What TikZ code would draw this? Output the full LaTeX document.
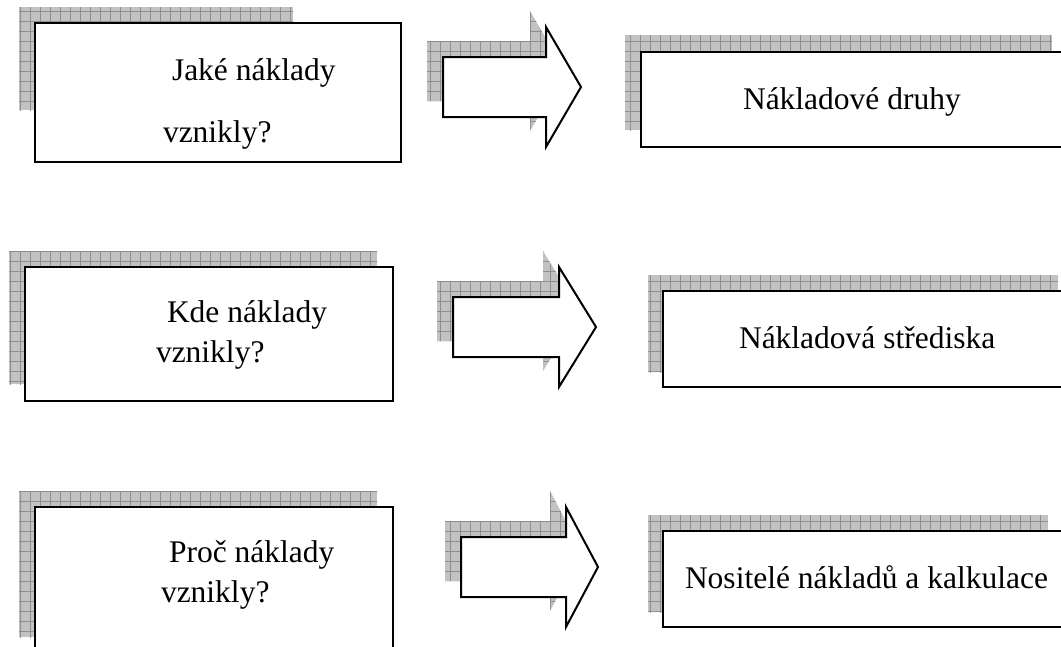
\documentclass[tikz,border=0pt]{standalone}
\usepackage{fontspec}
\setmainfont{Liberation Serif}
\definecolor{shadowgray}{HTML}{C2C2C2}
\definecolor{gridgray}{HTML}{8E8E8E}
\tikzset{
  box/.style={draw=black, line width=2pt, fill=white, inner sep=0pt, outer sep=0pt, anchor=north west},
  lbl/.style={font=\fontsize{31.5}{36}\selectfont, anchor=base west, inner sep=0pt, outer sep=0pt},
  blockarrow/.style={draw=black, line width=2pt, fill=white, line join=miter},
}
\newcommand\gshadow[1]{%
  \fill[shadowgray] #1;
  \begin{scope}
    \clip #1;
    \foreach \gx in {0,10,...,1070} {\draw[gridgray, line width=0.7pt] (\gx,0) -- (\gx,660);}
    \foreach \gy in {1,11,...,661} {\draw[gridgray, line width=0.7pt] (0,\gy) -- (1070,\gy);}
  \end{scope}}
\newcommand\arrowpath[8]{(#1,#2) -- (#4,#2) -- (#4,#5) -- (#7,#8) -- (#4,#6) -- (#4,#3) -- (#1,#3) -- cycle}
\begin{document}
\begin{tikzpicture}[x=1pt,y=-1pt]
\path[use as bounding box, clip] (0,0) rectangle (1061,646);
\fill[white] (0,0) rectangle (1061,646);
% ---------- row 1 ----------
\gshadow{(19,7) rectangle (293,110)}
\node[box, minimum width=366pt, minimum height=139pt] (q1) at (35,23) {};
\node[lbl] (q1a) at (172,80) {Jaké náklady};
\node[lbl] (q1b) at (163,142) {vznikly?};
\gshadow{\arrowpath{427}{41}{101}{530}{11}{131}{565}{71}}
\draw[blockarrow] \arrowpath{443}{57}{117}{546}{27}{147}{581}{87};
\gshadow{(625,35) rectangle (1052,130)}
\node[box, minimum width=440pt, minimum height=95pt] (a1) at (641,52) {};
\node[lbl] (a1t) at (743,109) {Nákladové druhy};
% ---------- row 2 ----------
\gshadow{(9,251) rectangle (377,384)}
\node[box, minimum width=368pt, minimum height=134pt] (q2) at (25,267) {};
\node[lbl] (q2a) at (167,322) {Kde náklady};
\node[lbl] (q2b) at (156,362) {vznikly?};
\gshadow{\arrowpath{437}{281}{341}{543}{251}{371}{580}{311}}
\draw[blockarrow] \arrowpath{453}{297}{357}{559}{267}{387}{596}{327};
\gshadow{(648,275) rectangle (1058,372)}
\node[box, minimum width=420pt, minimum height=96pt] (a2) at (663,291) {};
\node[lbl] (a2t) at (739,348) {Nákladová střediska};
% ---------- row 3 ----------
\gshadow{(19,491) rectangle (377,637)}
\node[box, minimum width=358pt, minimum height=180pt] (q3) at (35,507) {};
\node[lbl] (q3a) at (169,562) {Proč náklady};
\node[lbl] (q3b) at (161,602) {vznikly?};
\gshadow{\arrowpath{445}{521}{581}{550}{491}{611}{582}{551}}
\draw[blockarrow] \arrowpath{461}{537}{597}{566}{507}{627}{598}{567};
\gshadow{(648,515) rectangle (1048,612)}
\node[box, minimum width=420pt, minimum height=96pt] (a3) at (663,531) {};
\node[lbl] (a3t) at (685,588) {Nositelé nákladů a kalkulace};
\end{tikzpicture}
\end{document}
